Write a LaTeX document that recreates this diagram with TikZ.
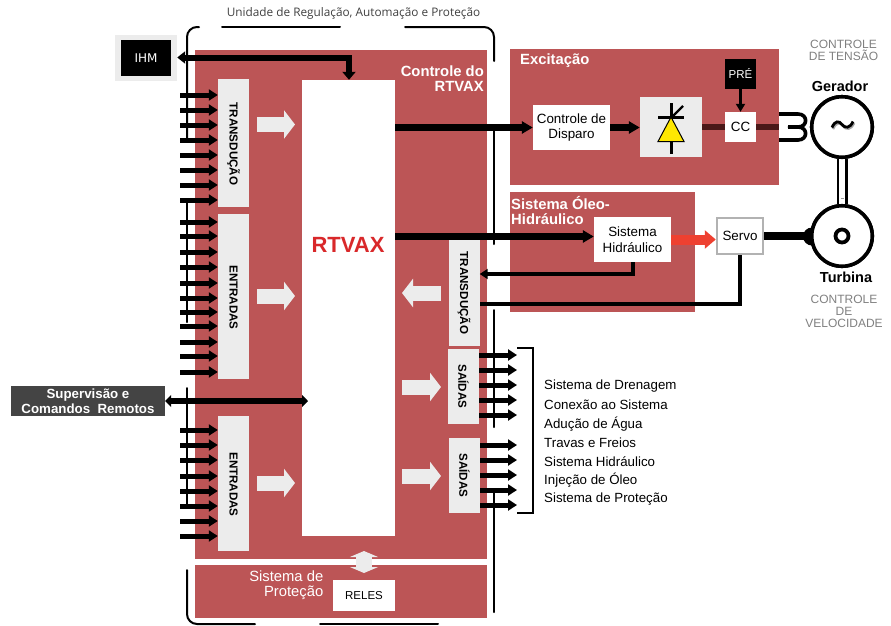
\documentclass[tikz,border=0pt]{standalone}
\usepackage{xcolor}
\usepackage{fontspec}
\setmainfont{Liberation Sans}
\newfontfamily\titlefont{Open Sans}
\newfontfamily\ihmfont{DejaVu Sans}
\usetikzlibrary{arrows.meta}

\definecolor{panelred}{HTML}{BC5556}
\definecolor{lightbox}{HTML}{ECECEC}
\definecolor{darkbox}{HTML}{444444}
\definecolor{graytext}{HTML}{808080}
\definecolor{darkline}{HTML}{4A1818}
\definecolor{redarrow}{HTML}{EE4030}
\definecolor{rtvaxred}{HTML}{D9282A}

\begin{document}
\begin{tikzpicture}[x=1pt, y=-1pt,
    panel/.style={fill=panelred, inner sep=0pt},
    box/.style={fill=white, inner sep=0pt, align=center, font=\fontsize{13.4}{15.5}\selectfont},
    graybox/.style={fill=lightbox, inner sep=0pt},
    vlabel/.style={rotate=-90, inner sep=0pt, font=\fontsize{11.6}{13}\selectfont\bfseries},
    whitelabel/.style={text=white, inner sep=0pt, font=\fontsize{14.8}{15}\selectfont\bfseries},
    graylabel/.style={text=graytext, inner sep=0pt, align=center, font=\fontsize{12}{12}\selectfont},
    unitlabel/.style={inner sep=0pt, font=\fontsize{14.5}{15}\selectfont\bfseries},
    listlabel/.style={anchor=west, inner sep=0pt, font=\fontsize{13.3}{15}\selectfont},
    machine/.style={circle, draw, line width=3.6pt, fill=white, minimum size=60.5pt, inner sep=0pt},
    sigarrow/.style={line width=5pt, -{Triangle[length=9pt, width=11pt]}},
    mainarrow/.style={line width=6.5pt, -{Triangle[length=11pt, width=12pt]}},
    bigarrow/.style={draw=lightbox, line width=15pt, -{Triangle[length=11pt, width=28pt]}},
    frameline/.style={line width=2pt, line cap=round},
]
    \useasboundingbox (0,0) rectangle (891,625);

    % Red panels
    \node[panel, minimum width=292, minimum height=509] (ctrl) at (341,304.5) {};
    \node[panel, minimum width=292, minimum height=53] (prot) at (341,591.5) {};
    \node[panel, minimum width=269, minimum height=136] (exc) at (644.5,117) {};
    \node[panel, minimum width=185, minimum height=120] (oleo) at (602.5,252) {};

    % Boxes inside the main panel
    \node[box, minimum width=93, minimum height=456] (rtvax) at (348.5,308) {};
    \node[graybox, minimum width=31, minimum height=128] (trl) at (233.5,143) {};
    \node[graybox, minimum width=31, minimum height=165] (ent) at (233.5,296.5) {};
    \node[graybox, minimum width=31, minimum height=135] (ents) at (233.5,483.5) {};
    \node[graybox, minimum width=31, minimum height=106] (trr) at (464,293) {};
    \node[graybox, minimum width=31, minimum height=75] (sai) at (463.5,386.5) {};
    \node[graybox, minimum width=31, minimum height=75] (sais) at (464.5,475.5) {};
    \node[box, minimum width=62, minimum height=31, font=\fontsize{11.5}{13}\selectfont] (reles) at (364,595.5) {RELES};

    % Labels of the boxes
    \node[vlabel, xshift=1pt] (trltext) at (trl) {TRANSDUÇÃO};
    \node[vlabel, xshift=1pt] (enttext) at (ent) {ENTRADAS};
    \node[vlabel, xshift=1pt] (entstext) at (ents) {ENTRADAS};
    \node[vlabel] (trrtext) at (trr) {TRANSDUÇÃO};
    \node[vlabel] (saitext) at (sai) {SAÍDAS};
    \node[vlabel] (saistext) at (sais) {SAÍDAS};
    \node[inner sep=0pt, text=rtvaxred, font=\fontsize{22}{24}\selectfont\bfseries] (rtvaxtext) at (348,245) {RTVAX};
    \node[whitelabel, align=right, anchor=north east] (ctrltext) at (484,66) {Controle do\\RTVAX};
    \node[inner sep=0pt, text=white, align=right, anchor=north east, font=\fontsize{14.8}{15}\selectfont] (prottext) at (323.5,571) {Sistema de\\Proteção};
    \node[whitelabel, anchor=west] (exctext) at (520,61) {Excitação};
    \node[whitelabel, align=left, anchor=north west] (oleotext) at (511,196) {Sistema Óleo-\\Hidráulico};

    % Top title and outer frame
    \node[inner sep=0pt, text=black!75, font=\fontsize{11.8}{13}\titlefont] (unittext) at (353.5,13) {Unidade de Regulação, Automação e Proteção};
    \draw[frameline, rounded corners=10pt] (199,27) -- (187,27) -- (187,140);
    \draw[frameline] (222,27) -- (340,27);
    \draw[frameline, rounded corners=10pt] (405,27) -- (494,27) -- (494,61);
    \draw[frameline] (187,203) -- (187,322);
    \draw[frameline] (187,388) -- (187,505);
    \draw[frameline, rounded corners=10pt] (187,570) -- (187,624) -- (255,624);
    \draw[frameline] (320,624) -- (438,624);
    \draw[frameline] (494,127) -- (494,244);
    \draw[frameline] (494,310) -- (494,427);
    \draw[frameline] (494,493) -- (494,612);

    % IHM and remote supervision
    \node[graybox, minimum width=62, minimum height=46] (ihmbg) at (146,57.5) {};
    \node[fill=black, text=white, minimum width=50, minimum height=36, inner sep=0pt, font=\fontsize{12}{14}\ihmfont] (ihm) at (146,58) {IHM};
    \node[fill=darkbox, text=white, minimum width=154, minimum height=30, inner sep=0pt, align=center, font=\fontsize{13.3}{15.5}\selectfont\bfseries] (sup) at (88,401) {Supervisão e\\Comandos~~Remotos};

    \coordinate (ihmturn) at (349,57.5);
    \draw[line width=6pt, {Triangle[length=8pt, width=12pt]}-{Triangle[length=8pt, width=13pt]}] (ihmbg.east) -- (ihmturn) -- (ihmturn |- rtvax.north);
    \coordinate (supend) at (308,401);
    \draw[line width=5.5pt, {Triangle[length=6pt, width=12pt]}-{Triangle[length=6pt, width=12pt]}] (sup.east) -- (supend);

    % Inputs on the left
    \foreach \y in {95,110,125,140,155,170,185,200} {
        \coordinate (ina\y) at (180,\y);
        \draw[sigarrow] (ina\y) -- (ina\y -| trl.west);
    }
    \foreach \y in {222,236,252,267,283,298,312,326,342,356,372} {
        \coordinate (inb\y) at (180,\y);
        \draw[sigarrow] (inb\y) -- (inb\y -| ent.west);
    }
    \foreach \y in {430,445,460,476,491,506,521,536} {
        \coordinate (inc\y) at (180,\y);
        \draw[sigarrow] (inc\y) -- (inc\y -| ents.west);
    }

    % Outputs on the right
    \foreach \y in {355,370,385,400,415} {
        \coordinate (outa\y) at (517,\y);
        \draw[sigarrow] (sai.east |- outa\y) -- (outa\y);
    }
    \foreach \y in {445,460,475,490,505} {
        \coordinate (outb\y) at (517,\y);
        \draw[sigarrow] (sais.east |- outb\y) -- (outb\y);
    }
    \draw[line width=2pt] (517,348) -- (533,348) -- (533,513) -- (517,513);

    % List of the output signals
    \node[listlabel] (lsta) at (544,386) {Sistema de Drenagem};
    \node[listlabel] (lstb) at (544,405) {Conexão ao Sistema};
    \node[listlabel] (lstc) at (544,424) {Adução de Água};
    \node[listlabel] (lstd) at (544,442.5) {Travas e Freios};
    \node[listlabel] (lste) at (544,461.5) {Sistema Hidráulico};
    \node[listlabel] (lstf) at (544,480.5) {Injeção de Óleo};
    \node[listlabel] (lstg) at (544,499) {Sistema de Proteção};

    % Big light arrows
    \coordinate (biga) at (257,124.5);
    \coordinate (bigb) at (257,296);
    \coordinate (bigc) at (257,483);
    \draw[bigarrow] (biga) -- ++(38,0);
    \draw[bigarrow] (bigb) -- ++(38,0);
    \draw[bigarrow] (bigc) -- ++(38,0);
    \coordinate (bigd) at (441,293);
    \coordinate (bige) at (402,387);
    \coordinate (bigf) at (402,476);
    \draw[bigarrow] (bigd) -- ++(-39,0);
    \draw[bigarrow] (bige) -- ++(39,0);
    \draw[bigarrow] (bigf) -- ++(39,0);
    \coordinate (bigg) at (364,551);
    \coordinate (bigh) at (364,573);
    \draw[draw=lightbox, line width=16pt, {Triangle[length=6pt, width=28pt]}-{Triangle[length=6pt, width=28pt]}] (bigg) -- (bigh);

    % Excitation
    \node[box, minimum width=77, minimum height=45] (disp) at (571.5,127.5) {Controle de\\Disparo};
    \node[graybox, minimum width=62, minimum height=60] (thy) at (671,127) {};
    \draw[line width=6pt, darkline] (thy.east) -- (thy.east -| exc.east);
    \node[box, minimum width=31, minimum height=30] (cc) at (740.5,127) {CC};
    \node[fill=black, text=white, minimum width=31, minimum height=30, inner sep=0pt, font=\fontsize{11.5}{13}\selectfont] (pre) at (740.5,74) {PRÉ};
    \draw[line width=3pt, -{Triangle[length=8pt, width=9pt]}] (pre.south) -- (cc.north);
    \draw[mainarrow] (rtvax.east |- disp.west) -- (disp.west);
    \draw[mainarrow] (disp.east) -- (disp.east -| thy.west);

    % Thyristor symbol
    \draw[line width=3pt] (671,103) -- (671,154);
    \draw[line width=3pt] (658,117) -- (684,117);
    \draw[line width=2.4pt] (672,117) -- (683,106);
    \draw[line width=1pt, fill=yellow!90!orange] (671,117) -- (684,141.5) -- (658,141.5) -- cycle;

    % Oil system
    \node[box, minimum width=77, minimum height=45] (hid) at (632.5,239.5) {Sistema\\Hidráulico};
    \node[box, draw=black!30, line width=2.5pt, minimum width=46, minimum height=36] (servo) at (740,236) {Servo};
    \coordinate (oilin) at (hid.west |- 0,236.5);
    \draw[mainarrow] (rtvax.east |- oilin) -- (oilin);
    \draw[draw=redarrow, line width=10pt, -{Triangle[length=11pt, width=18pt]}] (hid.east) -- (hid.east -| servo.west);
    \coordinate (hidret) at (trr.east |- 0,274);
    \coordinate (srvret) at (trr.east |- 0,304);
    \draw[line width=4pt, -{Triangle[length=8pt, width=10pt]}] (hid.south) |- (hidret);
    \draw[line width=3.6pt] (servo.south) |- (srvret);

    % Generator and turbine
    \draw[line width=3.6pt] (779,114) -- (798,114) to[out=0, in=0, looseness=2] (798,127) to[out=0, in=0, looseness=2] (798,140) -- (779,140);
    \draw[line width=3.6pt] (788,127) -- (798,127);
    \node[machine] (gen) at (842,127) {};
    \node[machine] (tur) at (842,236) {};
    \draw[line width=11pt] (gen.south) -- (tur.north);
    \draw[white, line width=6.5pt] (gen.south) -- (tur.north);
    \draw[black!40, line width=0.8pt] (840.5,198) -- (844,198);
    \draw[line width=7.5pt] (servo.east) -- (tur.west);
    \fill (812,236.5) circle (9);
    \node[machine] (gen) at (842,127) {};
    \node[machine] (tur) at (842,236) {};
    \draw[black!35, line width=2.5pt] (833,129) .. controls (836,122) and (840,122) .. (843,126) .. controls (846,130) and (851,130) .. (854,123);
    \draw[line width=2.8pt] (832,127.5) .. controls (835,120.5) and (839,120.5) .. (842,124.5) .. controls (845,128.5) and (850,128.5) .. (853,121.5);
    \draw[line width=3.8pt] (842,236) circle (6.5);

    % Machine labels
    \node[graylabel] (tensao) at (843.5,50) {CONTROLE\\DE TENSÃO};
    \node[unitlabel] (gerador) at (840,86) {Gerador};
    \node[unitlabel] (turbina) at (846,277) {Turbina};
    \node[graylabel] (velocidade) at (844,311) {CONTROLE\\DE\\VELOCIDADE};

\end{tikzpicture}
\end{document}
